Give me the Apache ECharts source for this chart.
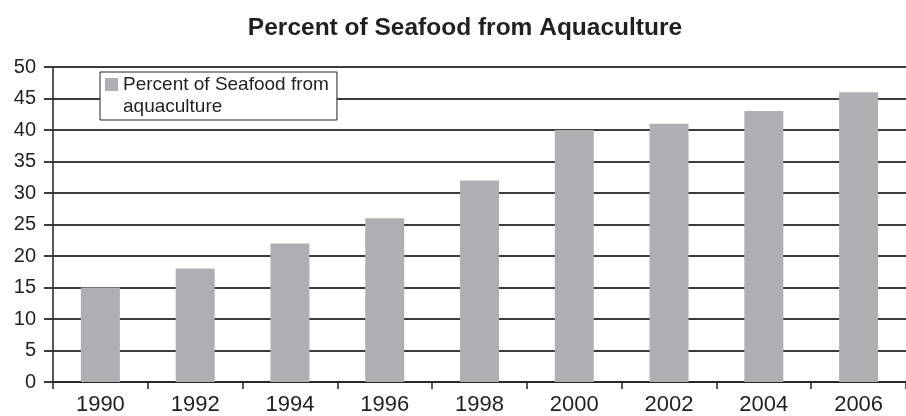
<!DOCTYPE html>
<html>
<head>
<meta charset="utf-8">
<script src="https://cdn.jsdelivr.net/npm/echarts@6/dist/echarts.min.js"></script>
<style>
html,body{margin:0;padding:0;background:#fff;}
#chart{width:906px;height:416px;}
</style>
</head>
<body>
<div id="chart"></div>
<script>
const titleText = 'Percent of Seafood from Aquaculture';
const seriesName = 'Percent of Seafood from aquaculture';
const years = ['1990','1992','1994','1996','1998','2000','2002','2004','2006'];
const percentValues = [15, 18, 22, 26, 32, 40, 41, 43, 46];
const yTicks = [0, 5, 10, 15, 20, 25, 30, 35, 40, 45, 50];

const FONT = '"Liberation Sans", Arial, Helvetica, sans-serif';
const TXT = '#231f20';
const BAR = '#aeafb2';
const GRIDC = '#3c3c3c';

const chart = echarts.init(document.getElementById('chart'), null, {renderer: 'canvas'});
chart.setOption({
  animation: false,
  backgroundColor: '#fff',
  title: {
    text: titleText,
    left: 460, top: 11, textAlign: 'center',
    textStyle: {fontFamily: FONT, fontWeight: 'bold', fontSize: 24.5, color: TXT}
  },
  legend: {
    left: 100, top: 72,
    data: [seriesName],
    itemWidth: 0, itemHeight: 0,
    icon: 'rect',
    padding: [3, 8, 4, 0],
    backgroundColor: '#fff',
    borderColor: '#222',
    borderWidth: 1,
    borderRadius: 0,
    selectedMode: false,
    formatter: function () {
      return '{sq|}{t|Percent of Seafood from}\n{t2|aquaculture}';
    },
    textStyle: {
      fontFamily: FONT, fontSize: 19, color: TXT,
      rich: {
        sq: {width: 13, height: 13, backgroundColor: BAR, padding: 0},
        t: {fontFamily: FONT, fontSize: 19, color: TXT, lineHeight: 22, padding: [0, 0, 0, 5]},
        t2: {fontFamily: FONT, fontSize: 19, color: TXT, lineHeight: 22, padding: [0, 0, 0, 18]}
      }
    }
  },
  grid: {left: 53, top: 67, width: 858, bottom: 32, containLabel: false},
  xAxis: {
    type: 'category',
    data: years,
    boundaryGap: true,
    axisLine: {show: true, lineStyle: {color: '#222', width: 1.5}},
    axisTick: {show: true, length: 7, alignWithLabel: false, lineStyle: {color: '#222', width: 1.5}},
    axisLabel: {fontFamily: FONT, fontSize: 22, color: TXT, margin: 12},
    splitLine: {show: false}
  },
  yAxis: {
    type: 'value',
    min: 0, max: 50, interval: 5,
    axisLine: {show: true, lineStyle: {color: '#222', width: 1.5}},
    axisTick: {show: true, length: 9, lineStyle: {color: GRIDC, width: 2}},
    axisLabel: {
      fontFamily: FONT, fontSize: 20, color: TXT, margin: 17,
      formatter: function (v) { return yTicks.indexOf(v) >= 0 ? String(v) : ''; }
    },
    splitLine: {show: true, lineStyle: {color: GRIDC, width: 2}}
  },
  series: [{
    name: seriesName,
    type: 'bar',
    data: percentValues,
    barWidth: 39,
    itemStyle: {color: BAR},
    z: 3
  }]
});
</script>
</body>
</html>
